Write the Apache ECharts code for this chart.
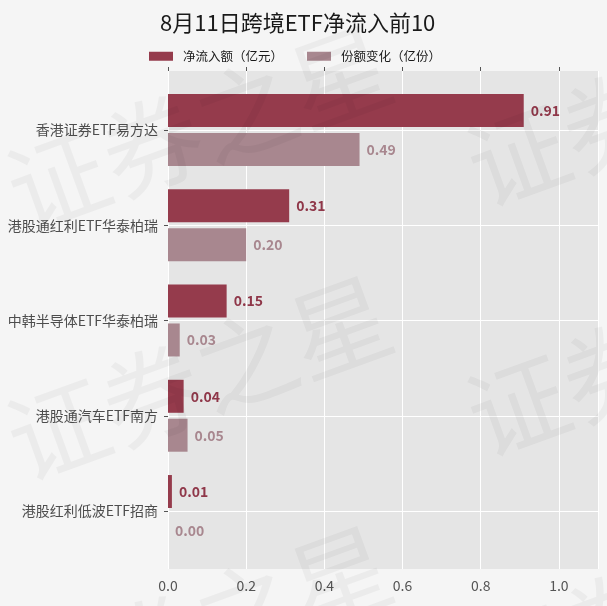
<!DOCTYPE html>
<html>
<head>
<meta charset="utf-8">
<script src="https://cdn.jsdelivr.net/npm/echarts@6/dist/echarts.min.js"></script>
<style>
html,body{margin:0;padding:0;background:#f5f5f5;}
#main{width:607px;height:606px;}
</style>
</head>
<body>
<div id="main"></div>
<script>
var categories = ['香港证券ETF易方达','港股通红利ETF华泰柏瑞','中韩半导体ETF华泰柏瑞','港股通汽车ETF南方','港股红利低波ETF招商'];
var inflow = [0.91, 0.31, 0.15, 0.04, 0.01];      // 净流入额（亿元）
var shareChange = [0.49, 0.20, 0.03, 0.05, 0.00]; // 份额变化（亿份）
var xTicks = [0, 0.2, 0.4, 0.6, 0.8, 1.0];
var seriesNames = ['净流入额（亿元）','份额变化（亿份）'];

var font = '"Noto Sans CJK SC", "Noto Sans", sans-serif';
var myChart = echarts.init(document.getElementById('main'));

// watermark tiles
var marks = [];
[[199,128],[199,378],[199,628],[659,104],[659,354],[659,604]].forEach(function(p){
	marks.push({
		type:'text', x:p[0], y:p[1], rotation:20*Math.PI/180, silent:true, z:100,
		style:{text:'证券之星', fontSize:100, fontFamily:font, fill:'rgba(0,0,0,0.04)', align:'center', verticalAlign:'middle'}
	});
});

function barSeries(name, data, color, labelColor){
	return {
		name:name,
		type:'bar',
		xAxisIndex:1,
		yAxisIndex:1,
		data:data,
		barWidth:33,
		barGap:'18%',
		clip:false,
		itemStyle:{color:color},
		label:{
			show:true,
			position:'right',
			distance:7,
			color:labelColor,
			fontFamily:font,
			fontSize:14,
			fontWeight:'bold',
			formatter:function(p){ return p.value.toFixed(2); }
		}
	};
}

var option = {
	backgroundColor:'#f5f5f5',
	textStyle:{fontFamily:font},
	title:{
		text:'8月11日跨境ETF净流入前10',
		left:155,
		top:7,
		textStyle:{fontSize:22, fontWeight:'normal', color:'#1a1a1a', fontFamily:font}
	},
	legend:{
		data:seriesNames,
		left:149,
		top:50,
		padding:0,
		icon:'rect',
		itemWidth:24,
		itemHeight:9,
		itemGap:24,
		textStyle:{fontSize:12.5, color:'#1a1a1a', fontFamily:font, padding:[0,0,0,5]}
	},
	graphic:marks,
	grid:[
		{left:168, right:9, top:71, bottom:37, show:true, backgroundColor:'#e5e5e5', borderWidth:0},
		{left:168, right:9, top:130, bottom:95}
	],
	xAxis:[
		{
			type:'value', gridIndex:0, min:0, max:1.1, interval:0.2,
			axisLine:{show:false},
			axisTick:{show:false},
			splitLine:{show:true, lineStyle:{color:'#fff', width:1}},
			axisLabel:{customValues:xTicks, color:'#555', fontSize:14, margin:10, fontFamily:font,
				formatter:function(v){ return v.toFixed(1); }}
		},
		{
			type:'value', gridIndex:1, min:0, max:1.1, interval:0.2, show:false
		},
		{
			type:'value', gridIndex:0, min:0, max:1.1, interval:0.2,
			axisLine:{show:false},
			axisLabel:{show:false},
			splitLine:{show:false},
			axisTick:{show:true, customValues:xTicks, length:4, lineStyle:{color:'#555'}}
		}
	],
	yAxis:[
		{type:'value', gridIndex:0, show:false, min:0, max:1},
		{
			type:'category', gridIndex:1, data:categories, inverse:true, boundaryGap:false,
			axisLine:{show:false},
			axisTick:{show:true, length:4, lineStyle:{color:'#555'}},
			splitLine:{show:true, lineStyle:{color:'#fff', width:1}},
			axisLabel:{color:'#4d4d4d', fontSize:14, margin:10, fontFamily:font}
		}
	],
	series:[
		barSeries(seriesNames[0], inflow, '#953b4c', '#8f3749'),
		barSeries(seriesNames[1], shareChange, '#a8878f', '#a8878f')
	]
};
myChart.setOption(option);
</script>
</body>
</html>
